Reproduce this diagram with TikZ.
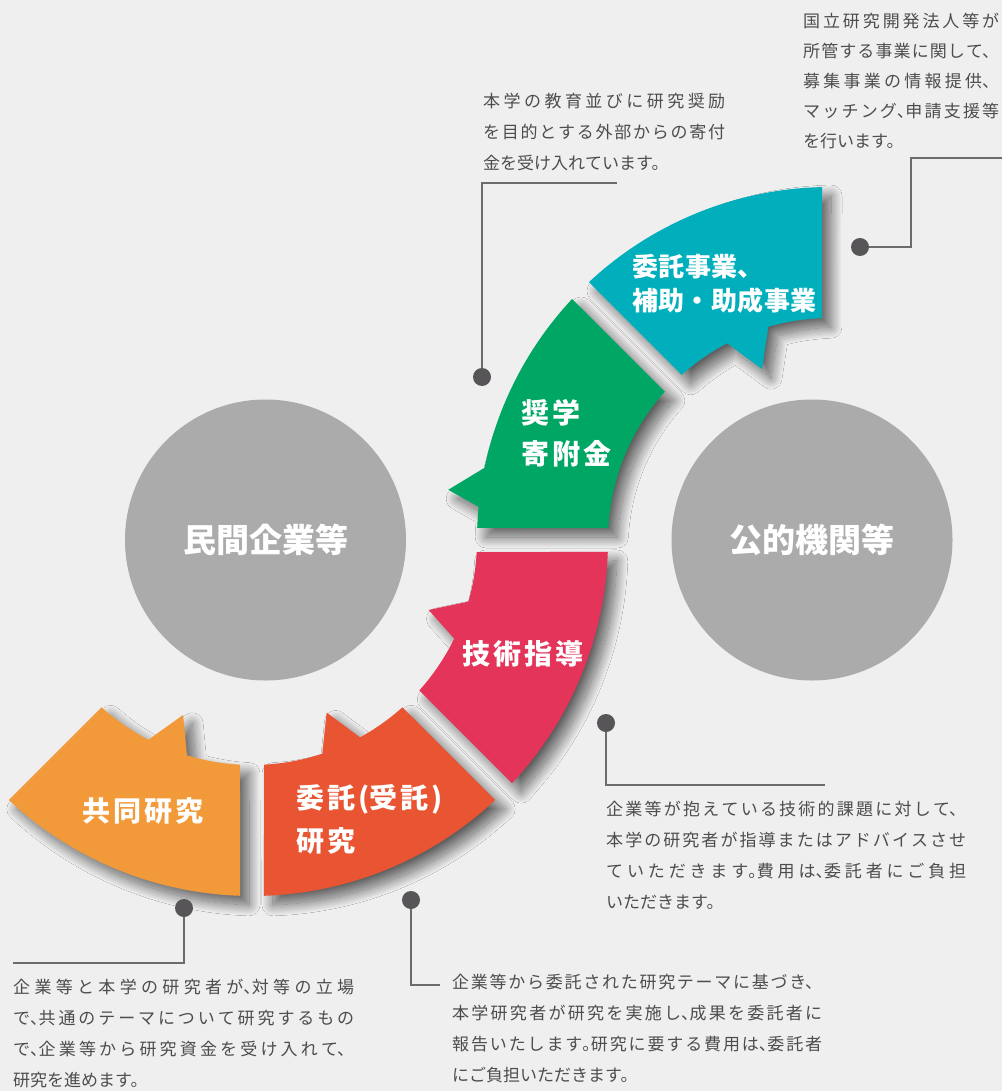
\documentclass[tikz,border=0pt]{standalone}
\usepackage{fontspec}
\setmainfont{Noto Sans CJK JP}
\newfontfamily\notejp{Noto Sans CJK JP}
\newfontfamily\labeljp{Noto Sans CJK JP}
\usetikzlibrary{shadows.blur}
\XeTeXlinebreaklocale "ja"
\XeTeXlinebreakskip=0pt plus 2pt
\XeTeXlinebreakpenalty=10000
\newcommand \hc [1] {\makebox[0.5em][l]{#1}}
\newcommand \charskip [1] {\XeTeXlinebreakskip=#1\relax}
\definecolor{paper}{HTML}{EFEFEF}
\definecolor{partnergray}{HTML}{AAABAA}
\definecolor{subsidy}{HTML}{00AFBB}
\definecolor{donation}{HTML}{00A764}
\definecolor{guidance}{HTML}{E5345A}
\definecolor{contract}{HTML}{E95532}
\definecolor{joint}{HTML}{F29A3A}
\definecolor{notetext}{HTML}{4E4C4D}
\definecolor{leadgray}{HTML}{6B6B6B}
\definecolor{dotgray}{HTML}{575557}
\tikzset{
	partner/.style={
		circle,
		fill=partnergray,
		inner sep=0pt,
		minimum size=281pt,
		text=white,
		font=\labeljp\bfseries\fontsize{33}{40}\selectfont\charskip{0.5pt}
	},
	segment/.style={
		fill=#1,
		blur shadow={shadow xshift=9pt, shadow yshift=-9pt, shadow blur radius=11pt, shadow blur steps=30, shadow opacity=60}
	},
	seglabel/.style={
		anchor=base west,
		inner sep=0pt,
		text width=260pt,
		align=left,
		text=white,
		font=\labeljp\bfseries\fontsize{28}{#1}\selectfont\charskip{3pt}
	},
	seglabel/.default=41,
	note/.style={
		anchor=base west,
		inner sep=0pt,
		text width=#1,
		align=justify,
		text=notetext,
		font=\notejp\fontsize{17}{31}\selectfont
	},
	notedot/.style={
		circle,
		fill=dotgray,
		inner sep=0pt,
		minimum size=18pt
	},
	leader/.style={
		draw=leadgray,
		line width=2pt
	}
}
\begin{document}
\begin{tikzpicture}[x=1pt, y=-1pt]
	\useasboundingbox (0,0) rectangle (1002,1091);
	\fill[paper] (0,0) rectangle (1002,1091);

	\node[partner] (firms) at (265.5,540) {民間企業等};
	\node[partner] (public) at (812,540) {公的機関等};

	\begin{scope}[shift={(252,540)}]
		\fill[segment=joint] (133.07:356) -- (131.94:225) arc[start angle=131.94, end angle=117.4, radius=225] -- (111.5:188) -- (106.8:225) arc[start angle=106.8, end angle=93.06, radius=225] -- (91.93:356) arc[start angle=91.93, end angle=133.07, radius=356] -- cycle;
		\fill[segment=contract] (88.07:356) -- (86.94:225) arc[start angle=86.94, end angle=71.8, radius=225] -- (66.6:188) -- (61.3:225) arc[start angle=61.3, end angle=48.06, radius=225] -- (46.93:356) arc[start angle=46.93, end angle=88.07, radius=356] -- cycle;
		\fill[segment=guidance] (43.07:356) -- (41.94:225) arc[start angle=41.94, end angle=26, radius=225] -- (21.6:190) -- (15.9:225) arc[start angle=15.9, end angle=3.06, radius=225] -- (1.93:356) arc[start angle=1.93, end angle=43.07, radius=356] -- cycle;
	\end{scope}
	\begin{scope}[shift={(830,540)}]
		\fill[segment=donation] (183.1:222) -- (181.95:353) arc[start angle=181.95, end angle=185.4, radius=353] -- (187.5:385) -- (191.8:353) arc[start angle=191.8, end angle=223.05, radius=353] -- (221.9:222) arc[start angle=221.9, end angle=183.1, radius=222] -- cycle;
		\fill[segment=subsidy] (228.1:222) -- (226.95:353) arc[start angle=226.95, end angle=268.7, radius=353] -- (267.9:222) arc[start angle=267.9, end angle=253.9, radius=222] -- (248.3:184) -- (242.4:222) arc[start angle=242.4, end angle=228.1, radius=222] -- cycle;
	\end{scope}

	\node[seglabel=34, font=\labeljp\bfseries\fontsize{26}{34}\selectfont\charskip{0.5pt}] (subsidylabel) at (632,276) {委託事業、\\補助・助成事業};
	\node[seglabel] (donationlabel) at (521,423) {奨学\\寄附金};
	\node[seglabel] (guidancelabel) at (462,664) {技術指導};
	\node[seglabel=43] (contractlabel) at (296,808) {委託\kern3pt(受託\kern3pt)\\研究};
	\node[seglabel] (jointlabel) at (82,821) {共同研究};

	\node[note=196pt, font=\notejp\fontsize{17}{30}\selectfont] (subsidynote) at (803,28) {国立研究開発法人等が\break 所管する事業に関して、\break 募集事業の情報提供、\break マッチング\hc{、}申請支援等\break を行います。};
	\node[note=242pt] (donationnote) at (483,107.5) {本学の教育並びに研究奨励\break を目的とする外部からの寄付\break 金を受け入れています。};
	\node[note=360pt] (guidancenote) at (606,815.5) {企業等が抱えている技術的課題に対して、\break 本学の研究者が指導またはアドバイスさせ\break ていただきます\hc{。}費用は\hc{、}委託者にご負担\break いただきます。};
	\node[note=341pt] (jointnote) at (13,993.5) {企業等と本学の研究者が\hc{、}対等の立場\break で\hc{、}共通のテーマについて研究するもの\break で\hc{、}企業等から研究資金を受け入れて、\break 研究を進めます。};
	\node[note=370pt] (contractnote) at (452,988.5) {企業等から委託された研究テーマに基づき、\break 本学研究者が研究を実施し\hc{、}成果を委託者に\break 報告いたします\hc{。}研究に要する費用は\hc{、}委託者\break にご負担いただきます。};

	\node[notedot] (subsidydot) at (860,247) {};
	\node[notedot] (donationdot) at (482,377) {};
	\node[notedot] (guidancedot) at (606,723) {};
	\node[notedot] (jointdot) at (184,908) {};
	\node[notedot] (contractdot) at (411,900) {};
	\coordinate (subsidybend) at (911,158);
	\coordinate (subsidyend) at (1002,158);
	\coordinate (donationend) at (617,183);
	\coordinate (guidanceend) at (825,785);
	\coordinate (jointend) at (13,963);
	\coordinate (contractend) at (440,985);

	\draw[leader] (subsidydot) -| (subsidybend) -- (subsidyend);
	\draw[leader] (donationdot) |- (donationend);
	\draw[leader] (guidancedot) |- (guidanceend);
	\draw[leader] (jointdot) |- (jointend);
	\draw[leader] (contractdot) |- (contractend);
\end{tikzpicture}
\end{document}
